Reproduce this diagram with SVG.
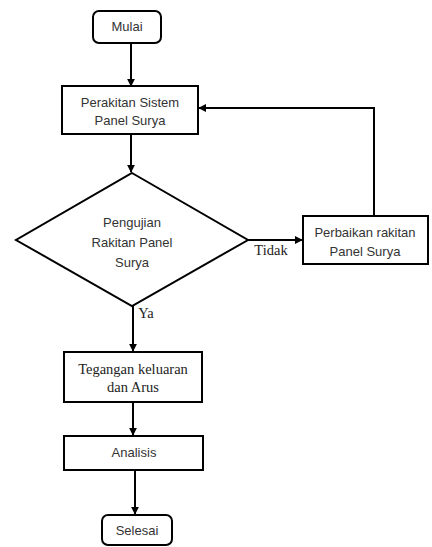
<svg xmlns="http://www.w3.org/2000/svg" width="432" height="547" viewBox="0 0 432 547">
<defs>
<marker id="arr" viewBox="0 0 10 10" refX="9" refY="5" markerWidth="4" markerHeight="4" orient="auto">
<path d="M0,0 L10,5 L0,10 z" fill="#000"/>
</marker>
<style>
.box{fill:#fff;stroke:#000;stroke-width:2}
.ln{fill:none;stroke:#000;stroke-width:2;marker-end:url(#arr)}
.sans{font-family:"Liberation Sans",Arial,sans-serif;font-size:13px;fill:#333;text-anchor:middle}
.serif{font-family:"Liberation Serif","Times New Roman",serif;font-size:14.5px;fill:#222;text-anchor:middle}
</style>
</defs>
<rect width="432" height="547" fill="#fff"/>
<g id="connectors">
<line class="ln" x1="131" y1="43" x2="131" y2="86"/>
<line class="ln" x1="131" y1="134" x2="131" y2="172"/>
<line class="ln" x1="248" y1="240" x2="302" y2="240"/>
<polyline class="ln" points="374,216 374,108 199,108"/>
<line class="ln" x1="133" y1="306" x2="133" y2="351"/>
<line class="ln" x1="133" y1="402" x2="133" y2="435"/>
<line class="ln" x1="135" y1="470" x2="135" y2="514"/>
<text class="serif" x="271" y="255">Tidak</text>
<text class="serif" x="146" y="318">Ya</text>
</g>
<g id="mulai">
<rect class="box" x="93" y="11" width="68" height="32" rx="6"/>
<text class="sans" x="127" y="31">Mulai</text>
</g>
<g id="perakitan">
<rect class="box" x="62" y="86" width="136" height="48"/>
<text class="sans" x="130" y="107">Perakitan Sistem</text>
<text class="sans" x="130" y="125">Panel Surya</text>
</g>
<g id="pengujian">
<polygon class="box" points="132,173 248,240 132,306 16,240"/>
<text class="sans" x="132" y="227">Pengujian</text>
<text class="sans" x="132" y="247">Rakitan Panel</text>
<text class="sans" x="132" y="267">Surya</text>
</g>
<g id="perbaikan">
<rect class="box" x="303" y="216" width="125" height="48"/>
<text class="sans" x="365" y="237">Perbaikan rakitan</text>
<text class="sans" x="365" y="256">Panel Surya</text>
</g>
<g id="tegangan">
<rect class="box" x="64" y="352" width="138" height="50"/>
<text class="serif" x="133" y="374">Tegangan keluaran</text>
<text class="serif" x="133" y="392">dan Arus</text>
</g>
<g id="analisis">
<rect class="box" x="64" y="436" width="139" height="34"/>
<text class="sans" x="134" y="457">Analisis</text>
</g>
<g id="selesai">
<rect class="box" x="102" y="515" width="70" height="30" rx="6"/>
<text class="sans" x="137" y="535">Selesai</text>
</g>
</svg>
